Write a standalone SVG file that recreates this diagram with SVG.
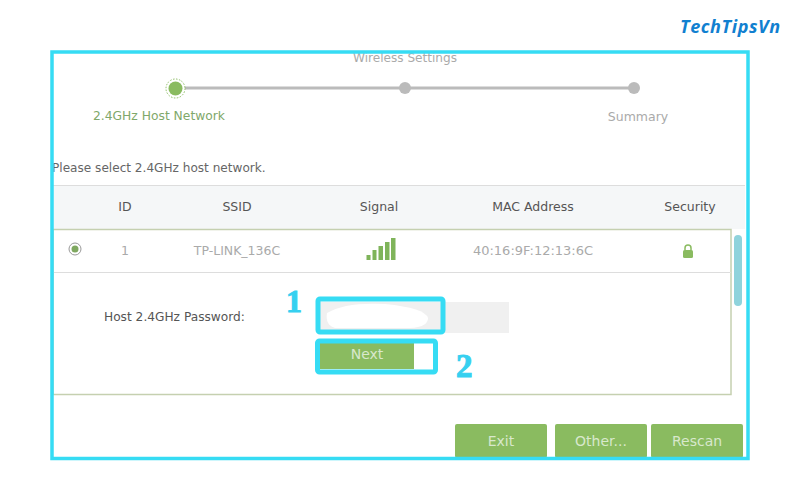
<svg xmlns="http://www.w3.org/2000/svg" width="800" height="500" viewBox="0 0 800 500">
<style>
text{font-family:"DejaVu Sans","Liberation Sans",sans-serif;font-size:12.5px}
.h{fill:#555;text-anchor:middle}
.g{fill:#aaa;text-anchor:middle}
.b{fill:#d8e8cc;text-anchor:middle;font-size:14px}
.btn{fill:#8abb60}
.c{fill:none;stroke:#36dcf4}
.n{fill:#36d0f0;stroke:#36d0f0;font-family:"Liberation Serif",serif;font-weight:bold;font-size:32px}
.dot{fill:#bbb}
.sig{fill:#7fb45a}
</style>
<rect width="800" height="500" fill="#fff"/>
<text id="brand" x="680" y="33" style="font-family:'Open Sans',sans-serif;font-size:18px;font-weight:700;font-style:italic;fill:#1180d0;letter-spacing:.6px">TechTipsVn</text>
<g id="table">
<rect x="53" y="185" width="692" height="44" fill="#f5f7f8"/>
<path d="M53 185.500H745" stroke="#ddd" fill="none"/>
<rect x="53" y="229.500" width="678" height="165" fill="#fff" stroke="#c5d0b0" stroke-width="1.500"/>
<path d="M53 272.500H731" stroke="#ddd" fill="none"/>
<rect x="734" y="235" width="8" height="71" rx="4" fill="#8fd3dc"/>
</g>
<g id="stepper">
<path d="M176 88H634" stroke="#bbb" stroke-width="3"/>
<circle cx="175.500" cy="88.500" r="9.500" fill="#fff" stroke="#8abb60" stroke-dasharray="1.500 1.500"/>
<circle cx="175.500" cy="88.500" r="7" fill="#8abb60"/>
<circle class="dot" cx="405" cy="88" r="6"/>
<circle class="dot" cx="634" cy="88" r="6"/>
<text x="405" y="62" class="g" style="font-size:12.100px">Wireless Settings</text>
<text x="159" y="120" style="fill:#7fa86a;text-anchor:middle;font-size:12.300px">2.4GHz Host Network</text>
<text x="638" y="121" class="g">Summary</text>
</g>
<text x="52" y="172" fill="#666" style="font-size:12.100px">Please select 2.4GHz host network.</text>
<g id="header">
<text x="125" y="211" class="h">ID</text>
<text x="237" y="211" class="h">SSID</text>
<text x="379" y="211" class="h">Signal</text>
<text x="533" y="211" class="h">MAC Address</text>
<text x="690" y="211" class="h">Security</text>
</g>
<g id="row">
<circle cx="75" cy="249" r="6" fill="#fff" stroke="#999"/>
<circle cx="75" cy="249" r="3.500" fill="#7fa860"/>
<text x="125" y="255" class="g">1</text>
<text x="237" y="255" class="g">TP-LINK_136C</text>
<g class="sig"><rect x="366.500" y="255" width="4" height="5"/><rect x="372.500" y="250" width="4" height="10"/><rect x="378.500" y="246" width="4.500" height="14"/><rect x="385" y="242" width="4.500" height="18"/><rect x="391" y="238" width="4.500" height="22"/></g>
<text x="533" y="255" class="g" style="font-size:13px">40:16:9F:12:13:6C</text>
<g id="lock"><rect x="683" y="250" width="10" height="8" rx="1.500" fill="#8abb60"/><path d="M685 250v-2a3 3 0 0 1 6 0v2" fill="none" stroke="#8abb60" stroke-width="1.500"/></g>
</g>
<text x="104" y="321" fill="#555" style="font-size:12.200px">Host 2.4GHz Password:</text>
<g id="password">
<rect x="320" y="302" width="189" height="31" fill="#f0f0f0"/>
<path d="M327 313Q345 302 385 304Q425 308 428 318Q428 327 410 328H335Q325 325 327 313Z" fill="#fff"/>
<rect class="c" x="318" y="299" width="125" height="33" rx="2" stroke-width="5"/>
<text class="n" x="286" y="312" stroke-width="1">1</text>
</g>
<g id="next">
<rect x="320" y="342" width="94" height="27" class="btn"/>
<text x="367" y="359" class="b">Next</text>
<rect class="c" x="317.500" y="341" width="118" height="31" rx="2" stroke-width="5"/>
<text class="n" x="456" y="377" stroke-width="1" style="font-size:33px">2</text>
</g>
<g id="exit"><rect x="455" y="424" width="92" height="34" rx="2" class="btn"/><text x="501" y="446" class="b">Exit</text></g>
<g id="other"><rect x="555" y="424" width="92" height="34" rx="2" class="btn"/><text x="601" y="446" class="b">Other...</text></g>
<g id="rescan"><rect x="651" y="424" width="92" height="34" rx="2" class="btn"/><text x="697" y="446" class="b">Rescan</text></g>
<rect id="frame" x="52" y="52" width="696" height="406.500" fill="none" stroke="#36dcf4" stroke-width="3.500"/>
</svg>
